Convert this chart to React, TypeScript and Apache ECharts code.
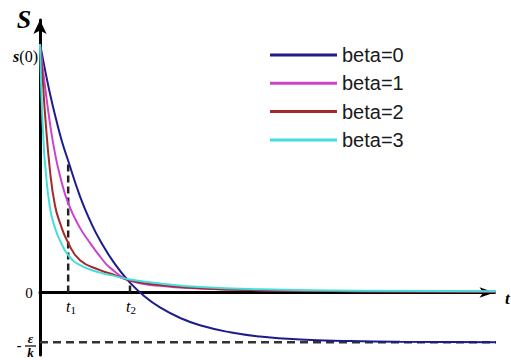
import React, { useEffect, useRef } from "react";
import * as echarts from "echarts";

const seriesNames = ["beta=0", "beta=1", "beta=2", "beta=3"];
const seriesColors = ["#1c1c8c", "#cc44cc", "#a32a2a", "#44dddd"];

const tBeta0 = [0, 0.11, 0.22, 0.35, 0.48, 0.62, 0.88, 1.1, 1.32, 1.65, 1.98, 2.31, 2.64, 3.08, 3.52, 4.18, 4.84, 5.72, 6.82, 7.92, 10.17];
const sBeta0 = [1.0, 0.897, 0.8, 0.7, 0.61, 0.53, 0.387, 0.29, 0.21, 0.114, 0.04, -0.017, -0.06, -0.102, -0.132, -0.16, -0.177, -0.189, -0.195, -0.198, -0.2];

const tBeta1 = [0, 0.044, 0.11, 0.22, 0.33, 0.44, 0.62, 0.88, 1.1, 1.32, 1.54, 1.98, 2.64, 3.52, 4.84, 7.04, 10.17];
const sBeta1 = [1.0, 0.93, 0.83, 0.68, 0.56, 0.47, 0.36, 0.26, 0.2, 0.145, 0.1, 0.048, 0.027, 0.016, 0.009, 0.005, 0.003];

const tBeta2 = [0, 0.066, 0.11, 0.22, 0.33, 0.44, 0.62, 0.88, 1.32, 1.65, 1.98, 2.64, 3.52, 4.84, 7.04, 10.17];
const sBeta2 = [1.0, 0.84, 0.72, 0.49, 0.35, 0.28, 0.2, 0.13, 0.09, 0.07, 0.048, 0.03, 0.017, 0.009, 0.005, 0.003];

const tBeta3 = [0, 0.022, 0.044, 0.066, 0.11, 0.22, 0.33, 0.44, 0.62, 0.88, 1.32, 1.65, 1.98, 2.64, 3.52, 4.84, 7.04, 10.17];
const sBeta3 = [1.0, 0.85, 0.74, 0.65, 0.52, 0.34, 0.26, 0.21, 0.15, 0.11, 0.08, 0.066, 0.052, 0.036, 0.022, 0.013, 0.007, 0.005];

const t1 = 0.62;
const t1Value = 0.53;
const t2 = 1.98;
const t2Value = 0.046;
const epsOverK = -0.2;
const tEnd = 10.17;

const xMin = 0;
const xMax = 10;
const yMin = -0.2515;
const yMax = 1.0966;

function zip(t: number[], s: number[]) {
  return t.map((v, i) => [v, s[i]]);
}

export default function App() {
  const ref = useRef<HTMLDivElement>(null);
  useEffect(() => {
    if (!ref.current) return;
    const chart = echarts.init(ref.current, null, { renderer: "svg" });
    const curves = [
      zip(tBeta0, sBeta0),
      zip(tBeta1, sBeta1),
      zip(tBeta2, sBeta2),
      zip(tBeta3, sBeta3),
    ];
    const serif = '"Liberation Serif", "DejaVu Serif", serif';
    const dashStyle = { color: "#222", width: 2.5, type: [7, 4] as any };
    chart.setOption({
      animation: false,
      backgroundColor: "#ffffff",
      grid: { left: 40, right: 16.5, top: 20, bottom: 5 },
      xAxis: {
        type: "value",
        min: xMin,
        max: xMax,
        axisLine: {
          show: true,
          onZero: true,
          symbol: ["none", "arrow"],
          symbolSize: [8, 15],
          lineStyle: { color: "#000", width: 3 },
        },
        axisTick: { show: false },
        axisLabel: { show: false },
        splitLine: { show: false },
      },
      yAxis: {
        type: "value",
        min: yMin,
        max: yMax,
        axisLine: {
          show: true,
          onZero: false,
          symbol: ["none", "arrow"],
          symbolSize: [10, 14],
          lineStyle: { color: "#000", width: 3 },
        },
        axisTick: { show: false },
        axisLabel: { show: false },
        splitLine: { show: false },
      },
      legend: {
        data: seriesNames,
        orient: "vertical",
        left: 265,
        top: 40,
        icon: "rect",
        itemWidth: 67,
        itemHeight: 3,
        itemGap: 8.3,
        textStyle: { fontSize: 20, fontFamily: '"Liberation Sans", Arial, sans-serif', color: "#1a1a1a" },
        selectedMode: false,
      },
      series: [
        {
          type: "line",
          data: [[0, epsOverK], [tEnd, epsOverK]],
          symbol: "none",
          silent: true,
          clip: false,
          lineStyle: { color: "#333", width: 2.5, type: [8, 5] },
          z: 1,
        },
        {
          type: "line",
          data: [[t1, 0], [t1, t1Value]],
          symbol: "none",
          silent: true,
          lineStyle: dashStyle,
          z: 1,
        },
        {
          type: "line",
          data: [[t2, 0], [t2, t2Value]],
          symbol: "none",
          silent: true,
          lineStyle: dashStyle,
          z: 1,
        },
        ...seriesNames.map((name, i) => ({
          name,
          type: "line",
          data: curves[i],
          symbol: "none",
          smooth: 0.5,
          clip: false,
          color: seriesColors[i],
          lineStyle: { color: seriesColors[i], width: 2 },
          z: 2,
        })),
      ],
      graphic: [
        { type: "text", x: 24, y: 19, style: { text: "S", font: `italic bold 26px ${serif}`, fill: "#000", align: "center", verticalAlign: "middle" } },
        {
          type: "text",
          x: 38,
          y: 56,
          style: {
            text: "{a|s}{b|(0)}",
            align: "right",
            verticalAlign: "middle",
            rich: {
              a: { font: `italic bold 16px ${serif}`, fill: "#000" },
              b: { font: `16px ${serif}`, fill: "#000" },
            },
          },
        },
        { type: "text", x: 29, y: 293, style: { text: "0", font: `15px ${serif}`, fill: "#000", align: "center", verticalAlign: "middle" } },
        { type: "text", x: 66, y: 298, style: { text: "t", font: `italic 16px ${serif}`, fill: "#000", align: "left", verticalAlign: "top" } },
        { type: "text", x: 70.5, y: 304, style: { text: "1", font: `11px ${serif}`, fill: "#000", align: "left", verticalAlign: "top" } },
        { type: "text", x: 126, y: 298, style: { text: "t", font: `italic 16px ${serif}`, fill: "#000", align: "left", verticalAlign: "top" } },
        { type: "text", x: 130.5, y: 304, style: { text: "2", font: `11px ${serif}`, fill: "#000", align: "left", verticalAlign: "top" } },
        { type: "text", x: 505, y: 290, style: { text: "t", font: `italic bold 17px ${serif}`, fill: "#000", align: "left", verticalAlign: "top" } },
        { type: "text", x: 19, y: 345, style: { text: "-", font: `bold 14px ${serif}`, fill: "#000", align: "center", verticalAlign: "middle" } },
        { type: "text", x: 30.5, y: 338, style: { text: "ε", font: `italic bold 13px ${serif}`, fill: "#000", align: "center", verticalAlign: "middle" } },
        { type: "line", shape: { x1: 25, y1: 346, x2: 36, y2: 346 }, style: { stroke: "#000", lineWidth: 1.2 } },
        { type: "text", x: 30.5, y: 352.5, style: { text: "k", font: `italic bold 13px ${serif}`, fill: "#000", align: "center", verticalAlign: "middle" } },
      ],
    });
    return () => chart.dispose();
  }, []);
  return <div ref={ref} style={{ position: "fixed", left: 0, top: 0, width: 511, height: 360 }} />;
}
